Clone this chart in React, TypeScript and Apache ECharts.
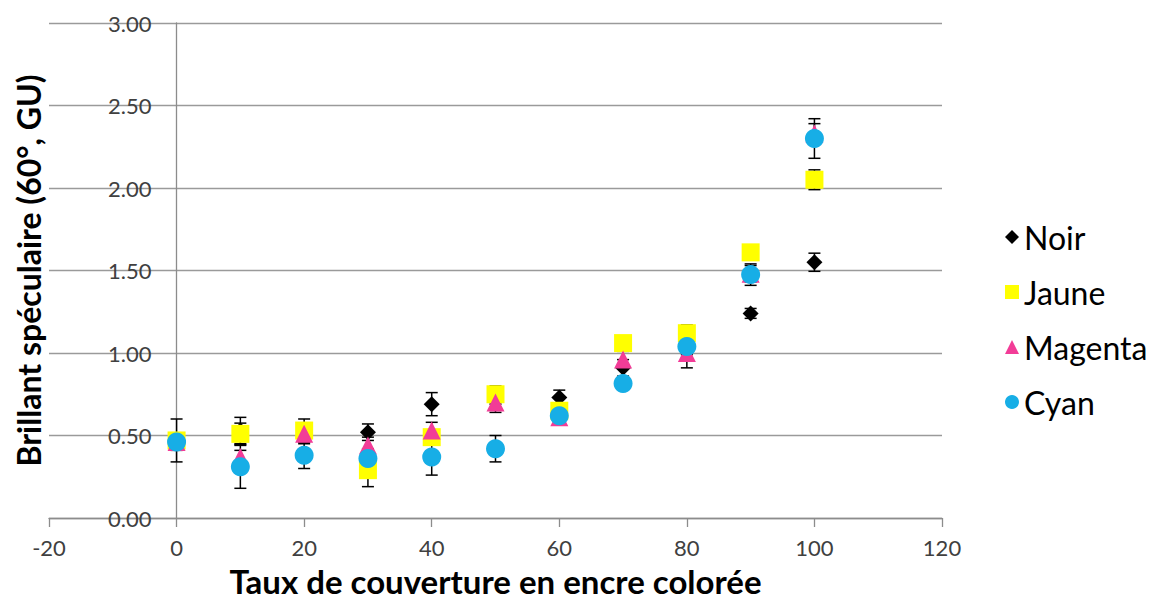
import React, { useEffect, useRef } from "react";
import * as echarts from "echarts";

const coverage = [0, 10, 20, 30, 40, 50, 60, 70, 80, 90, 100];

const noir = [0.47, 0.53, 0.5, 0.52, 0.69, 0.74, 0.73, 0.91, 1.05, 1.24, 1.55];
const noirErr = [0.13, 0.08, 0.05, 0.05, 0.07, 0.05, 0.045, 0.05, 0.05, 0.03, 0.055];

const jaune = [0.47, 0.51, 0.53, 0.29, 0.49, 0.75, 0.65, 1.06, 1.12, 1.61, 2.05];
const jauneErr = [0.03, 0.065, 0.07, 0.1, 0.04, 0.05, 0.04, 0.04, 0.05, 0.04, 0.06];

const magenta = [0.46, 0.37, 0.51, 0.44, 0.53, 0.7, 0.61, 0.96, 1.0, 1.48, 2.33];
const magentaErr = [0.03, 0.04, 0.04, 0.05, 0.05, 0.06, 0.03, 0.05, 0.09, 0.05, 0.06];

const cyan = [0.46, 0.31, 0.38, 0.36, 0.37, 0.42, 0.62, 0.815, 1.04, 1.475, 2.3];
const cyanErr = [0.05, 0.13, 0.08, 0.06, 0.11, 0.08, 0.03, 0.03, 0.05, 0.065, 0.12];

const seriesDefs = [
  { name: "Noir", values: noir, errors: noirErr, color: "#000000", symbol: "diamond", size: 16 },
  { name: "Jaune", values: jaune, errors: jauneErr, color: "#FFFF00", symbol: "rect", size: 18 },
  { name: "Magenta", values: magenta, errors: magentaErr, color: "#F23C97", symbol: "triangle", size: 18 },
  { name: "Cyan", values: cyan, errors: cyanErr, color: "#17AEE6", symbol: "circle", size: 19 },
];

const FONT = "Lato, 'Noto Sans', sans-serif";

// grid geometry: x from -20 to 120 spans [49, 942]
const GRID_LEFT = 49;
const GRID_RIGHT_PX = 942;
const X_MIN = -20;
const X_MAX = 120;
const yAxisShift = ((0 - X_MIN) / (X_MAX - X_MIN)) * (GRID_RIGHT_PX - GRID_LEFT);

function errorRender(params: any, api: any) {
  const x = api.value(0);
  const y = api.value(1);
  const e = api.value(2);
  const top = api.coord([x, y + e]);
  const bot = api.coord([x, y - e]);
  const cap = 6;
  const style = { stroke: "#000", lineWidth: 1.5 };
  return {
    type: "group",
    children: [
      { type: "line", shape: { x1: top[0], y1: top[1], x2: bot[0], y2: bot[1] }, style },
      { type: "line", shape: { x1: top[0] - cap, y1: top[1], x2: top[0] + cap, y2: top[1] }, style },
      { type: "line", shape: { x1: bot[0] - cap, y1: bot[1], x2: bot[0] + cap, y2: bot[1] }, style },
    ],
  };
}

export default function App() {
  const ref = useRef<HTMLDivElement>(null);

  useEffect(() => {
    if (!ref.current) return;
    const chart = echarts.init(ref.current, null, { renderer: "svg" });

    const series: any[] = [];
    seriesDefs.forEach((s) => {
      series.push({
        name: s.name + " erreur",
        type: "custom",
        silent: true,
        renderItem: errorRender,
        encode: { x: 0, y: 1 },
        data: coverage.map((c, i) => [c, s.values[i], s.errors[i]]),
        z: 2,
      });
      series.push({
        name: s.name,
        type: "scatter",
        symbol: s.symbol,
        symbolSize: s.size,
        itemStyle: { color: s.color, opacity: 1 },
        data: coverage.map((c, i) => [c, s.values[i]]),
        z: 2,
      });
    });

    chart.setOption({
      animation: false,
      backgroundColor: "#ffffff",
      textStyle: { fontFamily: FONT },
      grid: {
        left: GRID_LEFT,
        right: 1160 - GRID_RIGHT_PX,
        top: 23,
        bottom: 90,
        containLabel: false,
        outerBoundsMode: "none",
      },
      legend: {
        orient: "vertical",
        left: 1000,
        top: 215,
        itemWidth: 14,
        itemHeight: 14,
        itemGap: 21,
        textStyle: { fontFamily: FONT, fontSize: 32, color: "#000", lineHeight: 34 },
        data: seriesDefs.map((s) => ({ name: s.name, icon: s.symbol })),
      },
      xAxis: {
        type: "value",
        min: X_MIN,
        max: X_MAX,
        interval: 20,
        name: "Taux de couverture en encre colorée",
        nameLocation: "middle",
        nameGap: 46,
        nameTextStyle: { fontFamily: FONT, fontSize: 33, fontWeight: "bold", color: "#000" },
        axisLine: { show: true, onZero: true, lineStyle: { color: "#8c8c8c", width: 1.3 } },
        axisTick: { show: true, length: 9, lineStyle: { color: "#8c8c8c", width: 1.3 } },
        axisLabel: { fontFamily: FONT, fontSize: 22, color: "#404040", margin: 18 },
        splitLine: { show: false },
      },
      yAxis: {
        type: "value",
        min: 0,
        max: 3,
        interval: 0.5,
        offset: -yAxisShift,
        name: "Brillant spéculaire (60°, GU)",
        nameLocation: "middle",
        nameRotate: 90,
        nameGap: 132,
        nameTextStyle: { fontFamily: FONT, fontSize: 32, fontWeight: "bold", color: "#000" },
        axisLine: { show: true, onZero: false, lineStyle: { color: "#8c8c8c", width: 1.3 } },
        axisTick: { show: false },
        axisLabel: {
          fontFamily: FONT,
          fontSize: 22,
          color: "#404040",
          margin: 25,
          formatter: (v: number) => v.toFixed(2),
        },
        splitLine: { show: true, lineStyle: { color: "#9a9a9a", width: 1.3 } },
      },
      series,
    });

    return () => chart.dispose();
  }, []);

  return (
    <div
      ref={ref}
      style={{ position: "fixed", left: 0, top: 0, width: 1160, height: 608, background: "#fff" }}
    />
  );
}
